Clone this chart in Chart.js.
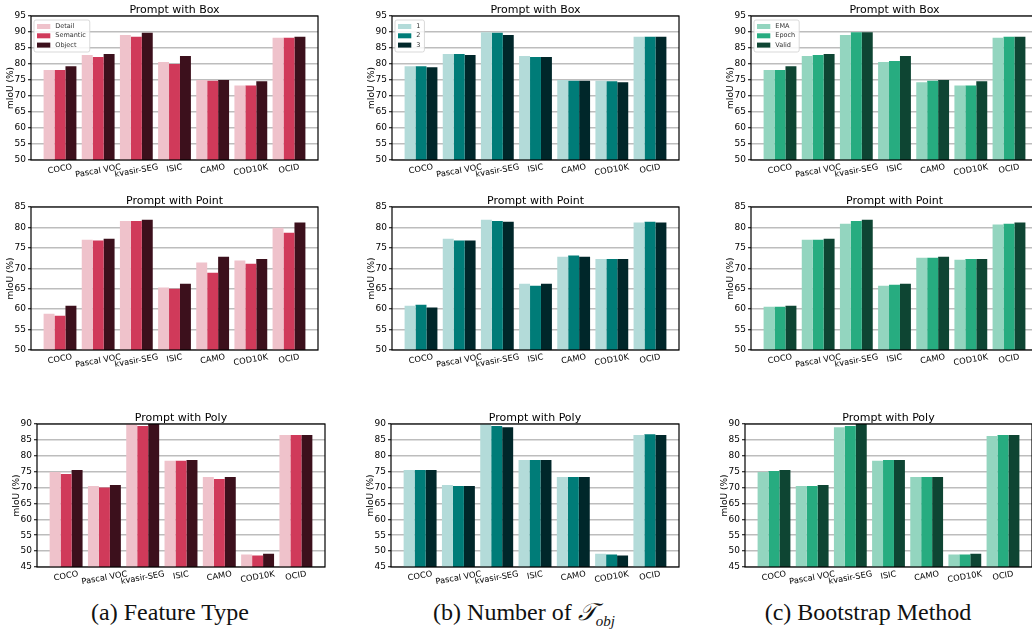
<!DOCTYPE html>
<html>
<head>
<meta charset="utf-8">
<script src="https://cdn.jsdelivr.net/npm/chart.js@4.4.1/dist/chart.umd.min.js"></script>
<style>
  html, body { margin: 0; padding: 0; background: #fff; }
  body { width: 1032px; height: 630px; position: relative; overflow: hidden; }
  canvas { position: absolute; }
  .caption {
    position: absolute; top: 598px; width: 340px; text-align: center; line-height: 28px;
    font-family: 'Liberation Serif', 'DejaVu Serif', serif; font-size: 24px; color: #111;
    white-space: nowrap;
  }
  .caption i { font-family: 'DejaVu Serif', serif; }
  .caption sub { font-size: 15px; font-style: italic; }
</style>
</head>
<body>
<div class="caption" style="left:0px">(a) Feature Type</div>
<div class="caption" style="left:354px">(b) Number of <i>𝒯</i><sub>obj</sub></div>
<div class="caption" style="left:698px">(c) Bootstrap Method</div>

<script>
// ---- data ----
const categories = ['COCO', 'Pascal VOC', 'kvasir-SEG', 'ISIC', 'CAMO', 'COD10K', 'OCID'];

const featureNames = ['Detail', 'Semantic', 'Object'];
const objNames = ['1', '2', '3'];
const bootNames = ['EMA', 'Epoch', 'Valid'];

const boxTicks = [50, 55, 60, 65, 70, 75, 80, 85, 90, 95];
const pointTicks = [50, 55, 60, 65, 70, 75, 80, 85];
const polyTicks = [45, 50, 55, 60, 65, 70, 75, 80, 85, 90];

// (a) feature type: Detail / Semantic / Object
const featureBox = [
  [78.1, 82.8, 89.1, 80.6, 75.0, 73.3, 88.2],
  [78.1, 82.2, 88.5, 80.0, 74.8, 73.3, 88.2],
  [79.3, 83.1, 89.8, 82.5, 75.0, 74.6, 88.5]
];
const featurePoint = [
  [58.9, 77.0, 81.6, 65.3, 71.4, 71.9, 79.9],
  [58.4, 76.8, 81.6, 65.0, 68.9, 71.1, 78.7],
  [60.8, 77.2, 81.9, 66.2, 72.8, 72.3, 81.2]
];
const featurePoly = [
  [74.9, 70.5, 90.3, 78.4, 73.3, 48.9, 86.5],
  [74.3, 70.0, 89.4, 78.4, 72.7, 48.6, 86.5],
  [75.5, 70.8, 90.3, 78.7, 73.3, 49.2, 86.5]
];

// (b) number of T_obj: 1 / 2 / 3
const objBox = [
  [79.3, 83.1, 89.9, 82.5, 75.0, 74.8, 88.5],
  [79.3, 83.1, 89.8, 82.2, 74.8, 74.6, 88.5],
  [79.0, 82.8, 89.1, 82.2, 74.8, 74.3, 88.5]
];
const objPoint = [
  [60.8, 77.2, 81.9, 66.2, 72.8, 72.3, 81.2],
  [61.1, 76.8, 81.6, 65.7, 73.1, 72.3, 81.4],
  [60.4, 76.8, 81.4, 66.2, 72.8, 72.3, 81.2]
];
const objPoly = [
  [75.5, 70.8, 90.3, 78.7, 73.3, 49.2, 86.5],
  [75.5, 70.5, 89.4, 78.7, 73.3, 48.9, 86.8],
  [75.5, 70.5, 89.0, 78.7, 73.3, 48.6, 86.5]
];

// (c) bootstrap method: EMA / Epoch / Valid
const bootBox = [
  [78.1, 82.5, 89.1, 80.6, 74.3, 73.3, 88.2],
  [78.1, 82.8, 89.9, 80.9, 74.8, 73.3, 88.5],
  [79.3, 83.1, 89.9, 82.5, 75.0, 74.6, 88.5]
];
const bootPoint = [
  [60.6, 77.0, 80.9, 65.7, 72.6, 72.1, 80.7],
  [60.6, 77.0, 81.6, 66.0, 72.6, 72.3, 80.9],
  [60.8, 77.2, 81.9, 66.2, 72.8, 72.3, 81.2]
];
const bootPoly = [
  [74.9, 70.5, 89.0, 78.4, 73.3, 48.9, 86.2],
  [75.2, 70.5, 89.4, 78.7, 73.3, 48.9, 86.5],
  [75.5, 70.8, 90.3, 78.7, 73.3, 49.2, 86.5]
];

const featureColors = ['#efc2cb', '#d03a5a', '#3c101c'];
const objColors = ['#b3dbd9', '#007c78', '#00272a'];
const bootColors = ['#93d5bf', '#27ac80', '#0e4533'];

// ---- layout: plot area of every panel, in page pixels ----
const panels = [
  { values: featureBox,   names: featureNames, colors: featureColors, ticks: boxTicks,   title: 'Prompt with Box',   legend: true,  plot: [31, 16, 318, 160] },
  { values: objBox,       names: objNames,     colors: objColors,     ticks: boxTicks,   title: 'Prompt with Box',   legend: true,  plot: [392, 16, 679, 160] },
  { values: bootBox,      names: bootNames,    colors: bootColors,    ticks: boxTicks,   title: 'Prompt with Box',   legend: true,  plot: [751, 16, 1038, 160] },
  { values: featurePoint, names: featureNames, colors: featureColors, ticks: pointTicks, title: 'Prompt with Point', legend: false, plot: [31, 207, 318, 350] },
  { values: objPoint,     names: objNames,     colors: objColors,     ticks: pointTicks, title: 'Prompt with Point', legend: false, plot: [392, 207, 679, 350] },
  { values: bootPoint,    names: bootNames,    colors: bootColors,    ticks: pointTicks, title: 'Prompt with Point', legend: false, plot: [751, 207, 1038, 350] },
  { values: featurePoly,  names: featureNames, colors: featureColors, ticks: polyTicks,  title: 'Prompt with Poly',  legend: false, plot: [37, 424, 325, 567] },
  { values: objPoly,      names: objNames,     colors: objColors,     ticks: polyTicks,  title: 'Prompt with Poly',  legend: false, plot: [391, 424, 679, 567] },
  { values: bootPoly,     names: bootNames,    colors: bootColors,    ticks: polyTicks,  title: 'Prompt with Poly',  legend: false, plot: [745, 424, 1032, 567] }
];

const FONT = '"DejaVu Sans", sans-serif';
const PAD_LEFT = 40, PAD_TOP = 20, PAD_RIGHT = 4, PAD_BOTTOM = 24;

// frame, title, y label, rotated x labels and the little legend box
const panelDecor = {
  id: 'panelDecor',
  afterDatasetsDraw(chart, args, opts) {
    const { ctx, chartArea: a } = chart;
    const xScale = chart.scales.x;
    ctx.save();

    // matplotlib-style box round the axes
    ctx.strokeStyle = '#000';
    ctx.lineWidth = 1.2;
    ctx.strokeRect(a.left, a.top, a.right - a.left, a.bottom - a.top);

    // title
    ctx.fillStyle = '#000';
    ctx.font = '11px ' + FONT;
    ctx.textAlign = 'center';
    ctx.textBaseline = 'alphabetic';
    ctx.fillText(opts.title, (a.left + a.right) / 2, a.top - 3);

    // y label
    ctx.save();
    ctx.translate(a.left - 20, (a.top + a.bottom) / 2);
    ctx.rotate(-Math.PI / 2);
    ctx.font = '9px ' + FONT;
    ctx.textBaseline = 'middle';
    ctx.fillText('mIoU (%)', 0, 0);
    ctx.restore();

    // x labels, rotated 10 degrees round their centre
    const rot = 10 * Math.PI / 180;
    const fs = 8.3;
    ctx.font = fs + 'px ' + FONT;
    ctx.textBaseline = 'middle';
    categories.forEach((label, i) => {
      const x = xScale.getPixelForValue(i);
      const w = ctx.measureText(label).width;
      const boxH = w * Math.sin(rot) + fs * Math.cos(rot);
      ctx.save();
      ctx.translate(x, a.bottom + 3 + boxH / 2);
      ctx.rotate(-rot);
      ctx.fillText(label, 0, 0);
      ctx.restore();
    });

    // legend inside the top-left corner
    if (opts.legend) {
      const sets = chart.data.datasets;
      ctx.font = '6.5px ' + FONT;
      const textW = Math.max(...sets.map(d => ctx.measureText(d.label).width));
      const bx = a.left + 3, by = a.top + 4;
      const bw = 3 + 13.3 + 5 + textW + 4, bh = 32;
      ctx.fillStyle = 'rgba(255,255,255,0.85)';
      ctx.strokeStyle = '#cfcfcf';
      ctx.lineWidth = 0.8;
      ctx.beginPath();
      ctx.roundRect(bx, by, bw, bh, 2);
      ctx.fill();
      ctx.stroke();
      ctx.textAlign = 'left';
      ctx.textBaseline = 'middle';
      sets.forEach((d, i) => {
        const cy = by + 6.5 + i * 9.3;
        ctx.fillStyle = d.backgroundColor;
        ctx.fillRect(bx + 3, cy - 2.5, 13.3, 5);
        ctx.fillStyle = '#333';
        ctx.fillText(d.label, bx + 3 + 13.3 + 5, cy);
      });
    }
    ctx.restore();
  }
};

function drawPanel(p) {
  const [l, t, r, b] = p.plot;
  const canvas = document.createElement('canvas');
  const w = (r - l) + PAD_LEFT + PAD_RIGHT;
  const h = (b - t) + PAD_TOP + PAD_BOTTOM;
  canvas.width = w;
  canvas.height = h;
  canvas.style.left = (l - PAD_LEFT) + 'px';
  canvas.style.top = (t - PAD_TOP) + 'px';
  canvas.style.width = w + 'px';
  canvas.style.height = h + 'px';
  document.body.appendChild(canvas);

  const yMin = p.ticks[0], yMax = p.ticks[p.ticks.length - 1];

  new Chart(canvas.getContext('2d'), {
    type: 'bar',
    data: {
      datasets: p.values.map((vals, k) => ({
        label: p.names[k],
        data: vals.map((v, i) => ({ x: i, y: v })),
        backgroundColor: p.colors[k],
        borderWidth: 0,
        categoryPercentage: 0.86,
        barPercentage: 1.0
      }))
    },
    options: {
      responsive: false,
      animation: false,
      devicePixelRatio: 1,
      layout: { padding: { left: 0, top: PAD_TOP, right: PAD_RIGHT, bottom: 0 } },
      plugins: {
        legend: { display: false },
        tooltip: { enabled: false },
        panelDecor: { title: p.title, legend: p.legend }
      },
      scales: {
        x: {
          type: 'linear',
          offset: false,
          bounds: 'data',
          min: -0.76,
          max: 6.76,
          grid: { display: false, offset: false },
          border: { display: false },
          ticks: { display: false },
          afterFit: s => { s.height = PAD_BOTTOM; }
        },
        y: {
          min: yMin,
          max: yMax,
          afterBuildTicks: s => { s.ticks = p.ticks.map(v => ({ value: v })); },
          afterFit: s => { s.width = PAD_LEFT; },
          border: { display: false },
          grid: {
            color: '#bdbdbd',
            lineWidth: 1.5,
            tickColor: '#000',
            tickLength: 3,
            tickWidth: 1
          },
          ticks: {
            color: '#000',
            padding: 2,
            font: { family: FONT, size: 9 }
          }
        }
      }
    },
    plugins: [panelDecor]
  });
}

panels.forEach(drawPanel);
</script>
</body>
</html>
